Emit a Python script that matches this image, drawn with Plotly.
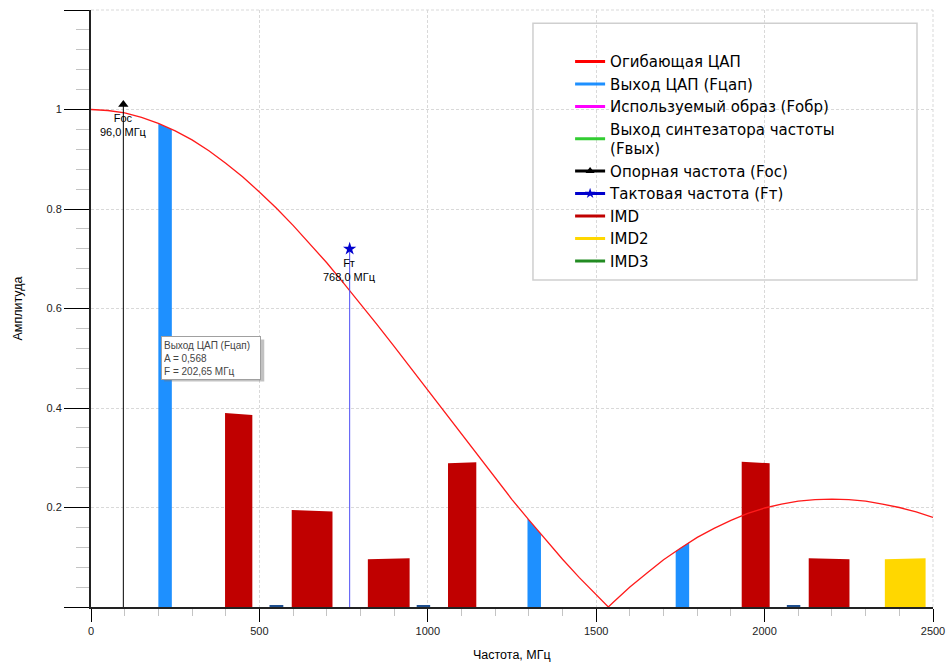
import plotly.graph_objects as go

# ---------------- data ----------------
env_freq = [0, 50, 100, 150, 200, 250, 300, 350, 400, 450, 500, 550, 600, 650, 700,
            750, 800, 850, 900, 950, 1000, 1050, 1100, 1150, 1200, 1250, 1300, 1350,
            1400, 1450, 1500, 1536, 1550, 1600, 1650, 1700, 1750, 1800, 1850, 1900,
            1950, 2000, 2050, 2100, 2150, 2200, 2250, 2300, 2350, 2400, 2450, 2500]
env_amp = [1.000, 0.998, 0.993, 0.984, 0.972, 0.957, 0.939, 0.917, 0.892, 0.865,
           0.834, 0.802, 0.767, 0.730, 0.692, 0.651, 0.610, 0.567, 0.524, 0.480,
           0.435, 0.390, 0.346, 0.302, 0.258, 0.216, 0.175, 0.135, 0.096, 0.059,
           0.024, 0.000, 0.009, 0.040, 0.068, 0.095, 0.118, 0.140, 0.158, 0.174,
           0.188, 0.199, 0.207, 0.213, 0.216, 0.217, 0.216, 0.213, 0.207, 0.200,
           0.191, 0.180]

dac_lo = [200, 1296, 1736]
dac_hi = [240, 1336, 1776]
dac_amp_lo = [0.972, 0.178, 0.112]
dac_amp_hi = [0.960, 0.146, 0.130]

imd_lo = [398, 596, 822, 1060, 1932, 2131]
imd_hi = [479, 717, 946, 1144, 2015, 2252]
imd_amp_lo = [0.390, 0.195, 0.096, 0.289, 0.292, 0.098]
imd_amp_hi = [0.386, 0.192, 0.098, 0.291, 0.289, 0.096]

imd2_lo = [2357]
imd2_hi = [2478]
imd2_amp_lo = [0.096]
imd2_amp_hi = [0.098]

spur_lo = [530, 967, 2066]
spur_hi = [571, 1007, 2106]
spur_amp = [0.004, 0.004, 0.004]

foc_freq = 96.0
foc_amp = 1.01
ft_freq = 768.0
ft_amp = 0.72

tip_name = "Выход ЦАП (Fцап)"
tip_amp = 0.568
tip_freq = 202.65

x_ticks = [0, 500, 1000, 1500, 2000, 2500]
y_ticks = [0, 0.2, 0.4, 0.6, 0.8, 1.0, 1.2]
y_ticktext = ["", "0.2", "0.4", "0.6", "0.8", "1", ""]

legend_names = ["Огибающая ЦАП", "Выход ЦАП (Fцап)", "Используемый образ (Fобр)",
                "Выход синтезатора частоты<br>(Fвых)", "Опорная частота (Fос)",
                "Тактовая частота (Fт)", "IMD", "IMD2", "IMD3"]
legend_colors = ["#ff0000", "#1e90ff", "#ff00ff", "#32cd32", "#000000",
                 "#0000cd", "#c00000", "#ffd700", "#228b22"]
legend_symbols = [None, None, None, None, "triangle-up", "star", None, None, None]

FONT = "Liberation Sans, Arial, sans-serif"
LFONT = "DejaVu Sans, Liberation Sans, sans-serif"
GRID = "#d9d9d9"


def band_polys(lo, hi, alo, ahi):
    xs, ys = [], []
    for a, b, c, d in zip(lo, hi, alo, ahi):
        xs += [a, a, b, b, a, None]
        ys += [0, c, d, 0, 0, None]
    return xs, ys


def fmt(v, n):
    return f"{v:.{n}f}".replace(".", ",")


fig = go.Figure()

# legend-only entries
for name, col, sym in zip(legend_names, legend_colors, legend_symbols):
    if sym:
        fig.add_trace(go.Scatter(x=[None], y=[None], name=name, mode="lines+markers",
                                 line=dict(color=col, width=3),
                                 marker=dict(symbol=sym, size=8, color=col)))
    else:
        fig.add_trace(go.Scatter(x=[None], y=[None], name=name, mode="lines",
                                 line=dict(color=col, width=3)))

# bands
for lo, hi, alo, ahi, col in [
    (dac_lo, dac_hi, dac_amp_lo, dac_amp_hi, "#1e90ff"),
    (imd_lo, imd_hi, imd_amp_lo, imd_amp_hi, "#c00000"),
    (imd2_lo, imd2_hi, imd2_amp_lo, imd2_amp_hi, "#ffd700"),
    (spur_lo, spur_hi, spur_amp, spur_amp, "#1f4f8f"),
]:
    xs, ys = band_polys(lo, hi, alo, ahi)
    fig.add_trace(go.Scatter(x=xs, y=ys, mode="lines", fill="toself", fillcolor=col,
                             line=dict(width=0, color=col), showlegend=False,
                             hoverinfo="skip"))

# envelope
fig.add_trace(go.Scatter(x=env_freq, y=env_amp, mode="lines",
                         line=dict(color="#ff1a1a", width=1.3), showlegend=False))

# reference frequency
fig.add_trace(go.Scatter(x=[foc_freq, foc_freq], y=[0, foc_amp], mode="lines",
                         line=dict(color="black", width=1), showlegend=False))
fig.add_trace(go.Scatter(x=[foc_freq], y=[foc_amp], mode="markers",
                         marker=dict(symbol="triangle-up", size=9, color="black"),
                         showlegend=False))
# clock frequency
fig.add_trace(go.Scatter(x=[ft_freq, ft_freq], y=[0, ft_amp], mode="lines",
                         line=dict(color="#4f4ff5", width=1), showlegend=False))
fig.add_trace(go.Scatter(x=[ft_freq], y=[ft_amp], mode="markers",
                         marker=dict(symbol="star", size=10, color="#0000cd"),
                         showlegend=False))

annos = [
    dict(x=foc_freq, y=foc_amp, xref="x", yref="y", yanchor="top", xanchor="center",
         yshift=-5, showarrow=False, align="center",
         text="Fос<br>" + fmt(foc_freq, 1) + " МГц",
         font=dict(family=FONT, size=11, color="black")),
    dict(x=ft_freq, y=ft_amp, xref="x", yref="y", yanchor="top", xanchor="center",
         yshift=-6, showarrow=False, align="center",
         text="Fт<br>" + fmt(ft_freq, 1) + " МГц",
         font=dict(family=FONT, size=11, color="black")),
    dict(x=tip_freq, y=tip_amp, xref="x", yref="y", xanchor="left", yanchor="top",
         xshift=2, yshift=-12, showarrow=False, align="left",
         text=tip_name + "<br>A = " + fmt(tip_amp, 3) + "<br>F = " + fmt(tip_freq, 2) + " МГц",
         font=dict(family=FONT, size=10, color="#444"),
         bgcolor="white", bordercolor="#a0a0a0", borderwidth=1, borderpad=2,
         width=94, height=38),
    dict(x=-0.0867, y=0.5, xref="paper", yref="paper", xanchor="center", yanchor="middle",
         text="Амплитуда", textangle=-90,
         showarrow=False, font=dict(family=FONT, size=12.5, color="black")),
    dict(x=0.5, y=-0.0804, xref="paper", yref="paper", xanchor="center", yanchor="middle",
         text="Частота, МГц",
         showarrow=False, font=dict(family=FONT, size=12.5, color="black")),
]

shapes = [
    # edge grid lines (top and right)
    dict(type="line", xref="paper", yref="paper", x0=0, x1=1, y0=1, y1=1,
         line=dict(color=GRID, width=1, dash="3px,2px"), layer="below"),
    dict(type="line", xref="paper", yref="paper", x0=1, x1=1, y0=0, y1=1,
         line=dict(color=GRID, width=1, dash="3px,2px"), layer="below"),
    # legend box
    dict(type="rect", xref="paper", yref="paper", x0=0.5249, x1=0.981, y0=0.5477, y1=0.978,
         fillcolor="white", line=dict(color="#cfcfcf", width=1.5), layer="between"),
    # tooltip shadow
    dict(type="rect", xref="x", yref="y", xsizemode="pixel", ysizemode="pixel",
         xanchor=tip_freq, yanchor=tip_amp, x0=5, x1=105, y0=-15, y1=-57,
         fillcolor="rgba(120,120,120,0.45)", line=dict(width=0), layer="above"),
]

fig.update_layout(
    width=949, height=665,
    margin=dict(l=91, r=16, t=10, b=58, autoexpand=False),
    paper_bgcolor="white", plot_bgcolor="white",
    font=dict(family=FONT, size=11, color="#222"),
    showlegend=True,
    legend=dict(x=0.569, xanchor="left", y=0.941, yanchor="top",
                bgcolor="rgba(0,0,0,0)", borderwidth=0,
                font=dict(family=LFONT, size=15, color="black"),
                itemclick=False, itemdoubleclick=False, tracegroupgap=0),
    annotations=annos,
    shapes=shapes,
    xaxis=dict(range=[0, 2500], tickvals=x_ticks, ticks="outside", ticklen=13,
               tickcolor="black", showline=True, linecolor="#222", linewidth=2,
               showgrid=True, gridcolor=GRID, griddash="3px,2px", zeroline=False,
               automargin=False,
               tickfont=dict(family=FONT, size=11, color="#222"),
               minor=dict(dtick=100, tick0=0, ticks="outside", ticklen=7,
                          tickcolor="#c4c4c4", showgrid=False)),
    yaxis=dict(range=[0, 1.2], tickvals=y_ticks, ticktext=y_ticktext, ticks="outside",
               ticklen=25, tickcolor="black", showline=True, linecolor="#222",
               linewidth=2, showgrid=True, gridcolor=GRID, griddash="3px,2px",
               zeroline=False, automargin=False,
               tickfont=dict(family=FONT, size=11, color="#222"),
               minor=dict(dtick=0.04, tick0=0, ticks="outside", ticklen=13,
                          tickcolor="#c4c4c4", showgrid=False)),
)

fig.write_html("out.html", config={"displayModeBar": False},
               post_script="document.body.style.margin='0';document.body.style.overflow='hidden';")
